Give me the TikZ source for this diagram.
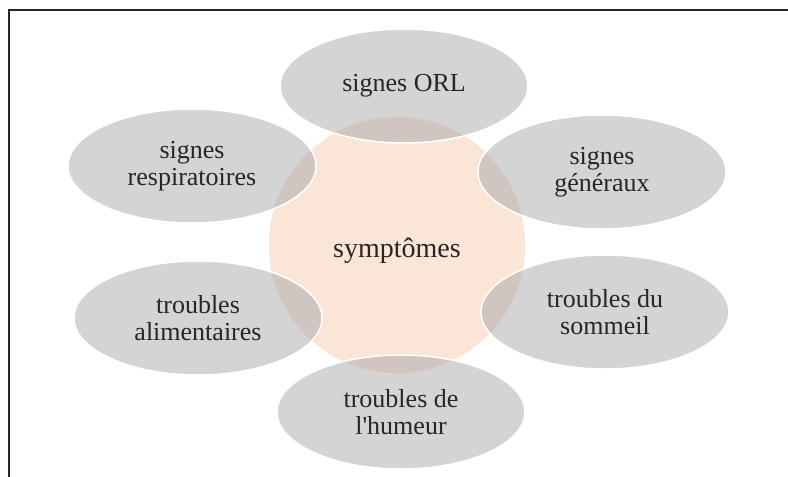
\documentclass[tikz,border=0pt]{standalone}
\usepackage{fontspec}
\setmainfont{Liberation Serif}
\usepackage{tikz}
\usetikzlibrary{shapes.geometric}
\usepackage{xcolor}
\definecolor{peach}{RGB}{251,229,214}
\definecolor{petalgray}{RGB}{169,169,169}
\definecolor{inkgray}{RGB}{38,38,38}

\begin{document}
\begin{tikzpicture}[x=1pt,y=-1pt,
	hub/.style={circle,fill=peach,draw=white,line width=1.5pt,
		minimum size=258pt,inner sep=0pt,text=inkgray,
		text height=24pt,text depth=0pt,
		font=\fontsize{28}{30}\selectfont},
	petal/.style={ellipse,fill=petalgray,fill opacity=.5,text opacity=1,
		draw=white,line width=1.5pt,minimum width=248pt,minimum height=114pt,
		inner sep=0pt,align=center,text=inkgray,
		font=\fontsize{26}{27}\selectfont}]
	\useasboundingbox (0,0) rectangle (788,477);
	\draw[line width=1.3pt,black!85] (9,477) -- (9,10) -- (788,10);
	
	\node[hub] (S) at (397,245) {symptômes};
	
	\node[petal] (orl) at (404,86) {signes ORL};
	\node[petal] (gen) at (602,172) {signes\\généraux};
	\node[petal] (som) at (605,312) {troubles du\\sommeil};
	\node[petal] (hum) at (401,412) {troubles de\\l\textquotesingle humeur};
	\node[petal] (ali) at (198,318) {troubles\\alimentaires};
	\node[petal] (resp) at (192,166) {signes\\respiratoires};
	\end{tikzpicture}
\end{document}
